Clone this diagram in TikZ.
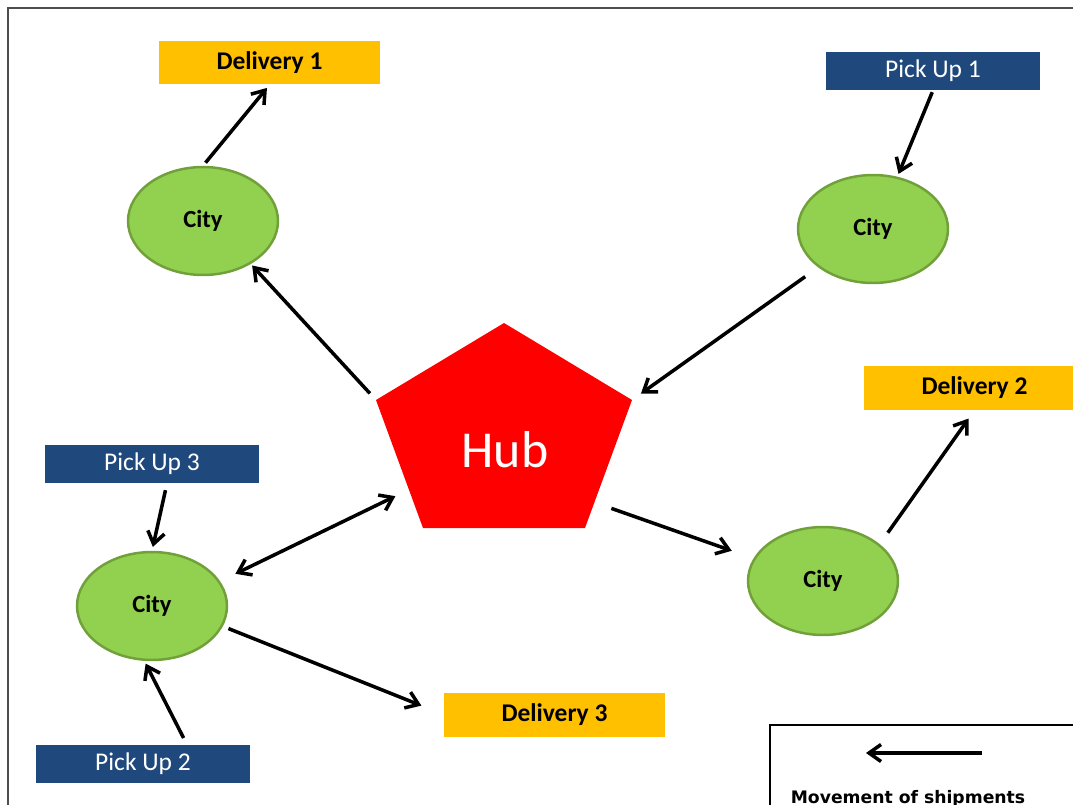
\documentclass[tikz,border=0pt]{standalone}
\usepackage{fontspec}
\setmainfont{Carlito}
\newfontfamily\legfont{DejaVu Sans}
\usetikzlibrary{arrows.meta,calc,shapes.geometric}
\definecolor{gold}{HTML}{FFC000}
\definecolor{navy}{HTML}{1F497D}
\definecolor{leaf}{HTML}{92D050}
\definecolor{leafline}{HTML}{71A03A}
\definecolor{hubred}{HTML}{FF0000}
\definecolor{ink}{HTML}{000000}
\definecolor{frm}{HTML}{4D4D4D}
\tikzset{
  dbox/.style={fill=gold,minimum width=4.42cm,minimum height=0.88cm,inner sep=0pt,font=\fontsize{14.5}{16}\selectfont\bfseries},
  pbox/.style={fill=navy,text=white,minimum width=4.28cm,minimum height=0.76cm,inner sep=0pt,font=\fontsize{14.5}{16}\selectfont},
  city/.style={ellipse,draw=leafline,line width=1.4pt,fill=leaf,minimum width=3.0cm,minimum height=2.16cm,inner sep=0pt,font=\fontsize{14}{16}\selectfont\bfseries},
  hubtxt/.style={text=white,inner sep=0pt,font=\fontsize{29.5}{32}\selectfont},
  arr/.style={-{Straight Barb[length=2.4mm,width=3.4mm]},line width=2pt,color=ink},
  arrb/.style={arr,{Straight Barb[length=2.4mm,width=3.4mm]}-{Straight Barb[length=2.4mm,width=3.4mm]}},
  legtxt/.style={inner sep=0pt,font=\legfont\fontsize{9.8}{11}\selectfont\bfseries}}

\begin{document}
\begin{tikzpicture}[x=0.02cm,y=-0.02cm]
\useasboundingbox (0,0) rectangle (1073,805);
\fill[white] (0,0) rectangle (1073,805);
\draw[frm,line width=1.1pt] (8,8) rectangle (1100,830);
\coordinate (ht) at (504,323);
\coordinate (hl) at (376,400);
\coordinate (hr) at (632,400);
\coordinate (hbr) at (585,528);
\coordinate (hbl) at (423,528);
\fill[hubred] (ht) -- (hr) -- (hbr) -- (hbl) -- (hl) -- cycle;
\node[hubtxt,anchor=base] (hub) at (505,467) {Hub};
\node[dbox] (d1) at (269.5,62.5) {Delivery 1};
\node[pbox] (p1) at (933,71) {Pick Up 1};
\node[dbox] (d2) at (974.5,388) {Delivery 2};
\node[pbox] (p3) at (152,464) {Pick Up 3};
\node[pbox] (p2) at (143,764) {Pick Up 2};
\node[dbox] (d3) at (554.5,714.5) {Delivery 3};
\node[city] (c1) at (203,221) {City};
\node[city] (c2) at (873,229) {City};
\node[city] (c3) at (823,581) {City};
\node[city] (c4) at (152,606) {City};
\draw[arr,shorten <=0.08cm,shorten >=0.08cm] (c1.north) -- (d1.south);
\draw[arr,shorten <=0.04cm,shorten >=0.06cm] (p1.south) -- (c2.65);
\draw[arr,shorten <=0.18cm,shorten >=0.04cm] (hl) -- (c1.318);
\draw[arr,shorten <=0.32cm,shorten >=0.22cm] (c2.215) -- (hr);
\draw[arr,shorten <=0.28cm,shorten >=0.2cm] (c3.33) -- (d2.south);
\draw[arr,shorten <=0.36cm,shorten >=0.46cm] ($(hr)!0.8!(hbr)$) -- (c3.162);
\draw[arrb,shorten <=0.34cm,shorten >=0.3cm] (c4.20) -- ($(hl)!0.7!(hbl)$);
\draw[arr,shorten <=0.14cm,shorten >=0.08cm] ($(p3.south)+(15,0)$) -- (c4.north);
\draw[arr,shorten <=0.15cm,shorten >=0.06cm] ($(p2.north)+(44,0)$) -- (c4.262);
\draw[arr,shorten <=0.12cm,shorten >=0.48cm] (c4.344) -- (d3.west);
\draw[ink,line width=1.7pt] (770,725) rectangle (1100,830);
\coordinate (la) at (982,753);
\coordinate (lb) at (866,753);
\draw[arr] (la) -- (lb);
\node[legtxt,anchor=base] (leg) at (908,803) {Movement of shipments};
\end{tikzpicture}
\end{document}
